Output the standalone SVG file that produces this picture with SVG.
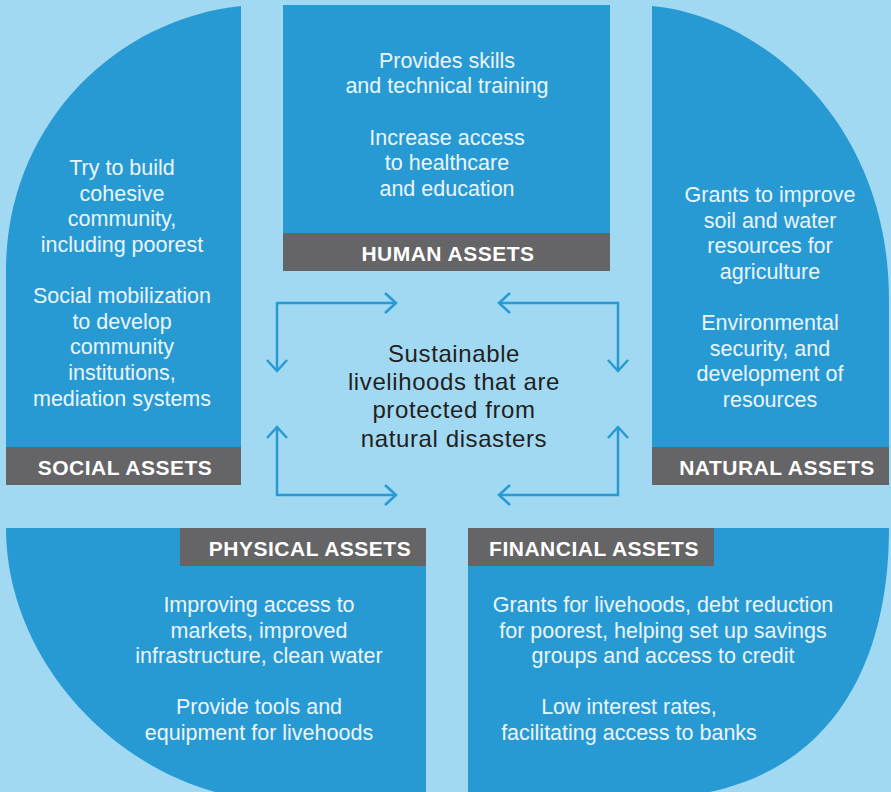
<svg xmlns="http://www.w3.org/2000/svg" width="891" height="792" viewBox="0 0 891 792">
<defs>
<style>
.bg{fill:#a1d9f3}
.blue{fill:#289ad3}
.lab{fill:#656466}
.lt{font-family:"Liberation Sans",Arial,sans-serif;font-weight:bold;font-size:21px;fill:#ffffff;letter-spacing:0.5px;text-anchor:middle}
.bt{font-family:"Liberation Sans",Arial,sans-serif;font-size:21.5px;fill:#eaf5fb;text-anchor:middle}
.ct{font-family:"Liberation Sans",Arial,sans-serif;font-size:24px;fill:#231f20;letter-spacing:0.6px;text-anchor:middle}
.con{fill:none;stroke:#289ad3;stroke-width:2.5}
</style>
<marker id="ah" viewBox="-14 -12 16 24" refX="0" refY="0" markerWidth="16" markerHeight="24" markerUnits="userSpaceOnUse" orient="auto-start-reverse">
<path d="M-11,-10 L0,0 L-11,10" fill="none" stroke="#289ad3" stroke-width="2.5"/>
</marker>
</defs>
<rect class="bg" x="0" y="0" width="891" height="792"/>

<g id="social">
<path class="blue" d="M241,6 L241,485 L6,485 L6,270 C6,130 110,20 241,6 Z"/>
<rect class="lab" x="6" y="447" width="235" height="38"/>
<text class="lt" x="125" y="475">SOCIAL ASSETS</text>
<text class="bt" x="122" y="175">Try to build</text>
<text class="bt" x="122" y="201">cohesive</text>
<text class="bt" x="122" y="226">community,</text>
<text class="bt" x="122" y="252">including poorest</text>
<text class="bt" x="122" y="303">Social mobilization</text>
<text class="bt" x="122" y="329">to develop</text>
<text class="bt" x="122" y="354">community</text>
<text class="bt" x="122" y="380">institutions,</text>
<text class="bt" x="122" y="406">mediation systems</text>
</g>

<g id="human">
<rect class="blue" x="283" y="5" width="327" height="228"/>
<rect class="lab" x="283" y="233" width="327" height="38"/>
<text class="lt" x="448" y="261">HUMAN ASSETS</text>
<text class="bt" x="447" y="68">Provides skills</text>
<text class="bt" x="447" y="93">and technical training</text>
<text class="bt" x="447" y="145">Increase access</text>
<text class="bt" x="447" y="170">to healthcare</text>
<text class="bt" x="447" y="196">and education</text>
</g>

<g id="natural">
<path class="blue" d="M652,6 C760,16 889,120 889,300 L889,485 L652,485 Z"/>
<rect class="lab" x="652" y="447" width="237" height="38"/>
<text class="lt" x="777" y="475">NATURAL ASSETS</text>
<text class="bt" x="770" y="202">Grants to improve</text>
<text class="bt" x="770" y="228">soil and water</text>
<text class="bt" x="770" y="253">resources for</text>
<text class="bt" x="770" y="279">agriculture</text>
<text class="bt" x="770" y="330">Environmental</text>
<text class="bt" x="770" y="356">security, and</text>
<text class="bt" x="770" y="381">development of</text>
<text class="bt" x="770" y="407">resources</text>
</g>

<g id="physical">
<path class="blue" d="M6,528 L426,528 L426,792 L215,792 C100,760 6,650 6,528 Z"/>
<rect class="lab" x="180" y="528" width="246" height="38"/>
<text class="lt" x="310" y="556">PHYSICAL ASSETS</text>
<text class="bt" x="259" y="612">Improving access to</text>
<text class="bt" x="259" y="638">markets, improved</text>
<text class="bt" x="259" y="663">infrastructure, clean water</text>
<text class="bt" x="259" y="714">Provide tools and</text>
<text class="bt" x="259" y="740">equipment for livehoods</text>
</g>

<g id="financial">
<path class="blue" d="M468,528 L889,528 C889,660 835,765 710,792 L468,792 Z"/>
<rect class="lab" x="468" y="528" width="246" height="38"/>
<text class="lt" x="594" y="556">FINANCIAL ASSETS</text>
<text class="bt" x="663" y="612">Grants for livehoods, debt reduction</text>
<text class="bt" x="663" y="638">for poorest, helping set up savings</text>
<text class="bt" x="663" y="663">groups and access to credit</text>
<text class="bt" x="629" y="714">Low interest rates,</text>
<text class="bt" x="629" y="740">facilitating access to banks</text>
</g>

<g id="center">
<text class="ct" x="454" y="362">Sustainable</text>
<text class="ct" x="454" y="390">livelihoods that are</text>
<text class="ct" x="454" y="418">protected from</text>
<text class="ct" x="454" y="447">natural disasters</text>
</g>

<g id="connectors">
<path class="con" d="M396,303 L277,303 L277,371" marker-start="url(#ah)" marker-end="url(#ah)"/>
<path class="con" d="M499,303 L618,303 L618,371" marker-start="url(#ah)" marker-end="url(#ah)"/>
<path class="con" d="M277,427 L277,495 L396,495" marker-start="url(#ah)" marker-end="url(#ah)"/>
<path class="con" d="M618,427 L618,495 L499,495" marker-start="url(#ah)" marker-end="url(#ah)"/>
</g>
</svg>
